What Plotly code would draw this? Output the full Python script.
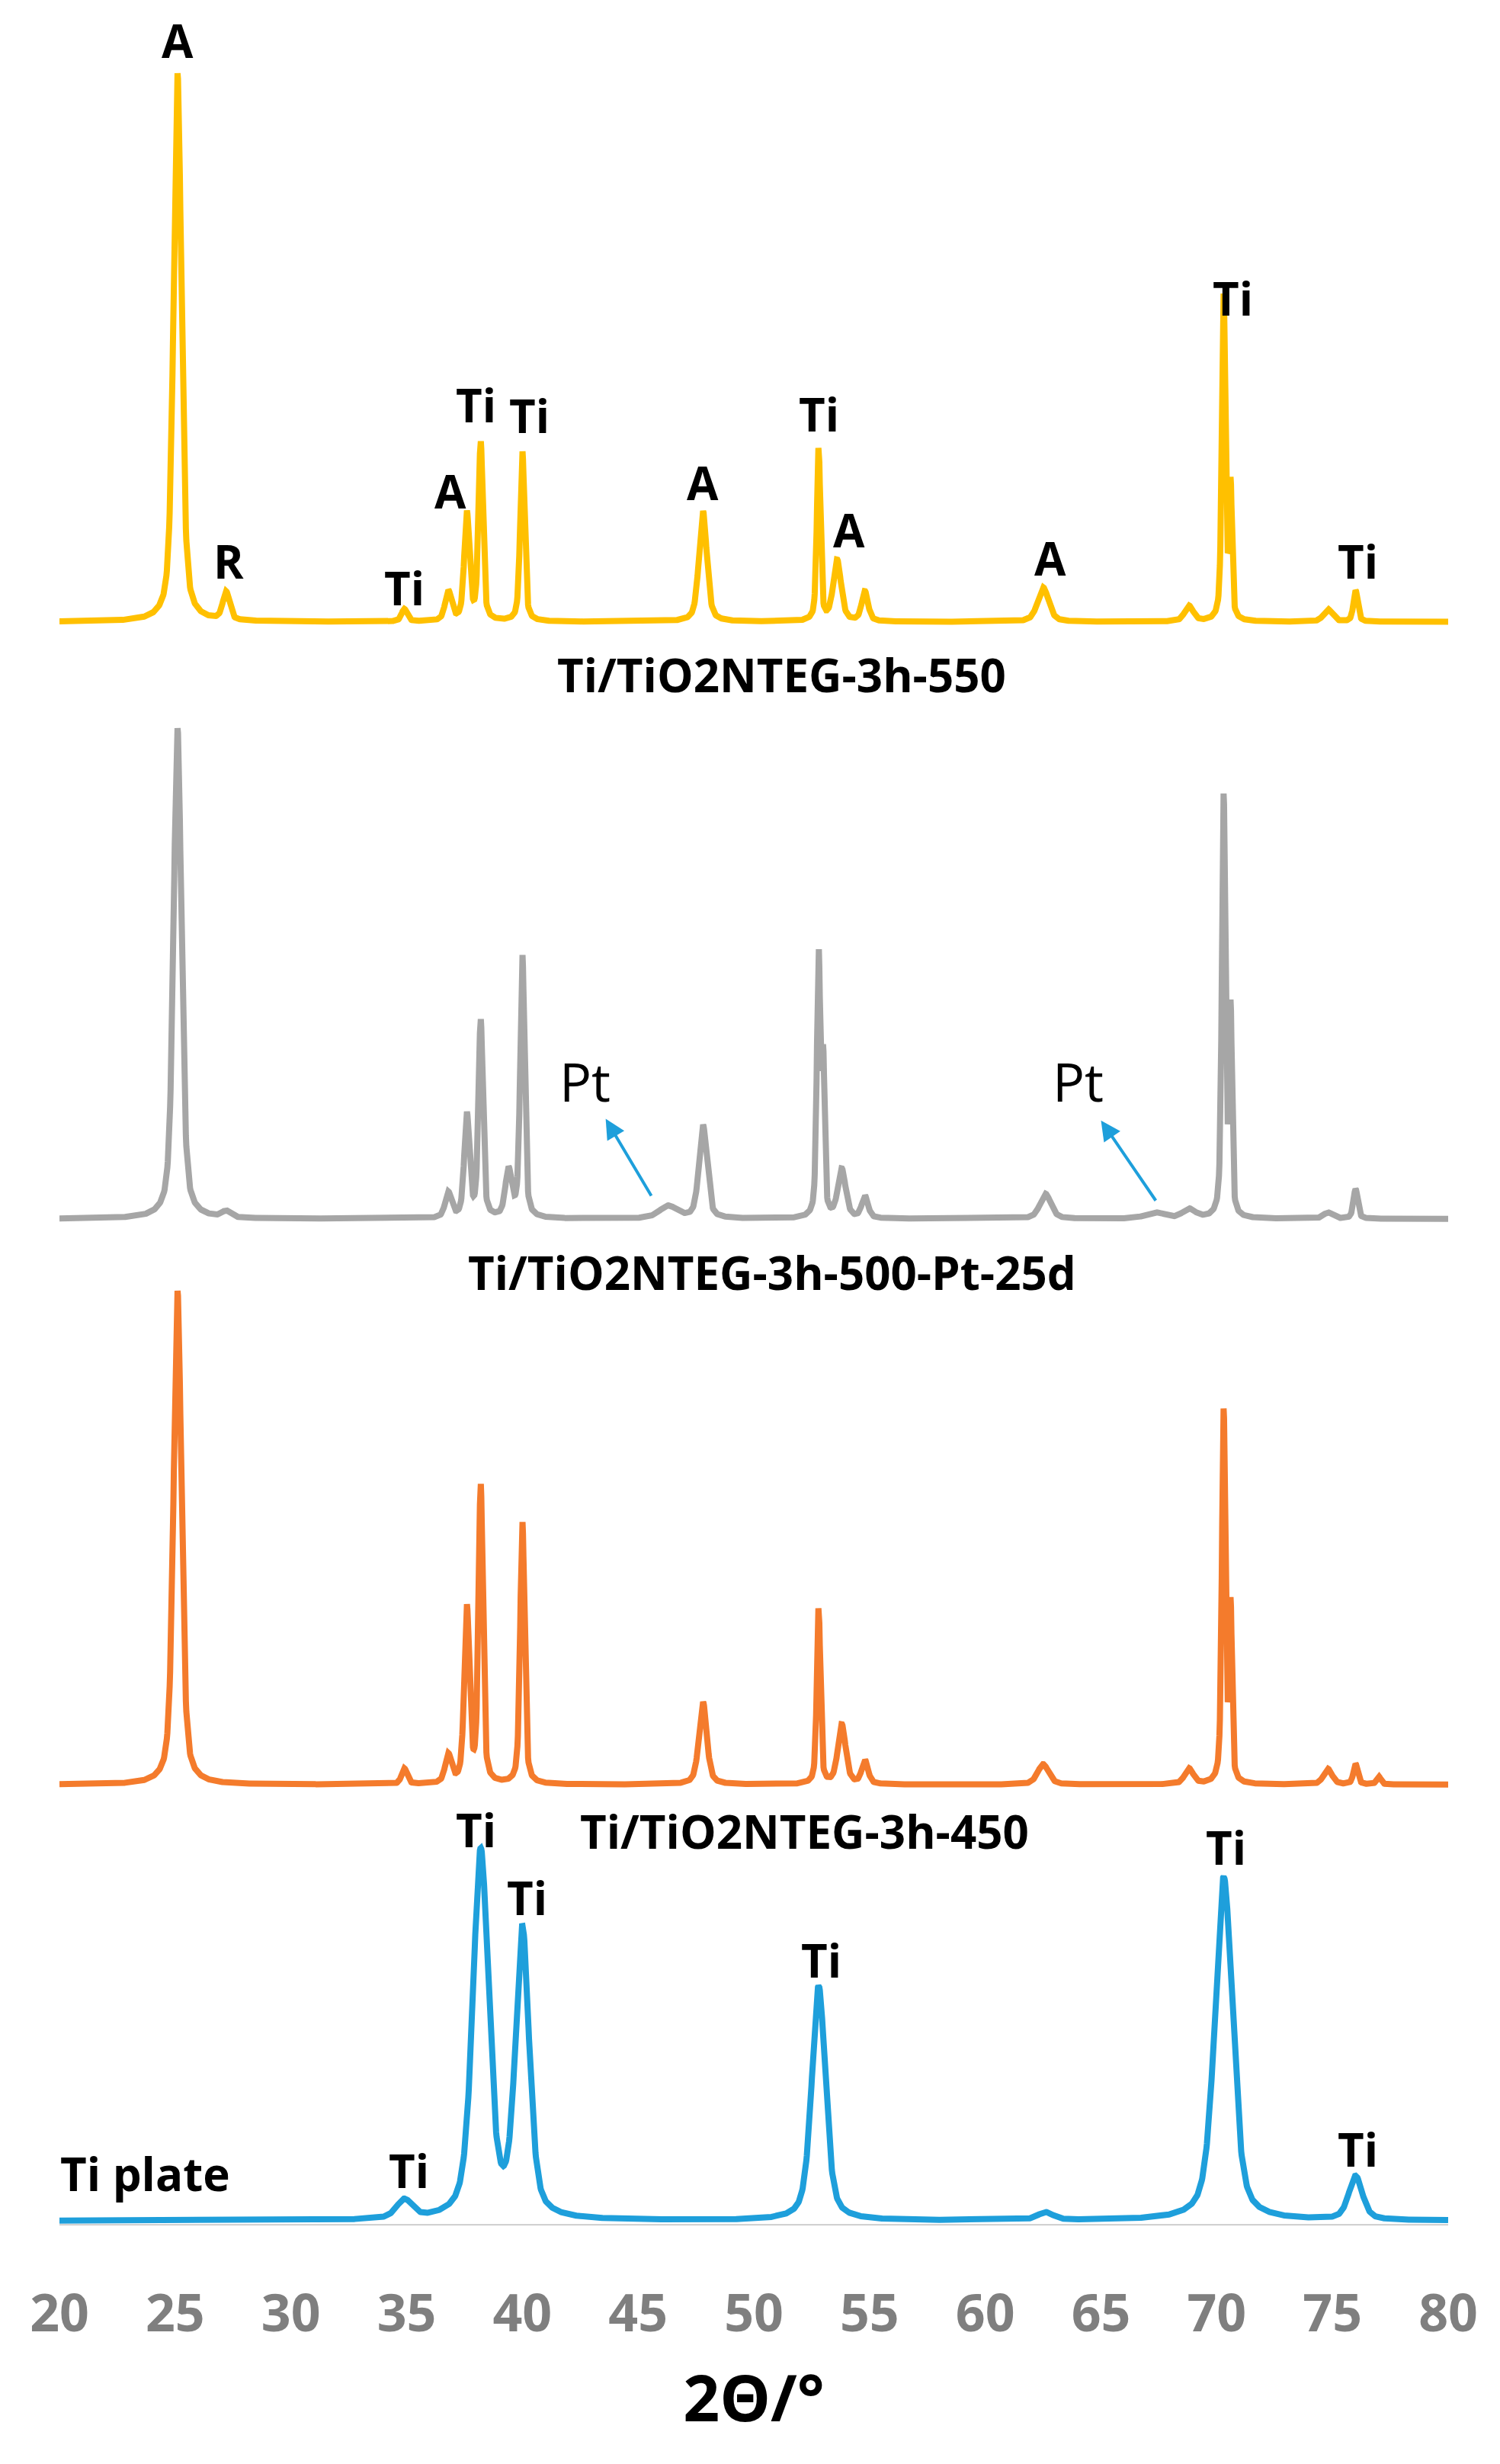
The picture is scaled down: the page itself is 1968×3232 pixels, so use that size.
import numpy as np
import plotly.graph_objects as go

# peak lists: (2theta, height above own baseline, half width)
ti_plate_pk = [34.9, 38.2, 40.0, 52.8, 62.6, 70.3, 76.0]
ti_plate_h = [12, 235, 183, 150, 5, 220, 28]
ti_plate_w = [0.4, 0.4, 0.35, 0.35, 0.4, 0.45, 0.35]

s450_pk = [25.1, 34.9, 36.8, 37.6, 38.2, 40.0, 47.8, 52.8, 53.8, 54.8, 62.5, 68.8, 70.3, 70.6, 74.8, 76.0, 77.0]
s450_h = [316, 10, 18, 112, 190, 168, 53, 113, 38, 15, 13, 10, 238, 110, 10, 13, 5]
s450_w = [0.2, 0.14, 0.16, 0.13, 0.11, 0.11, 0.2, 0.09, 0.2, 0.16, 0.28, 0.22, 0.09, 0.07, 0.22, 0.11, 0.11]

s500_pk = [25.1, 27.2, 36.8, 37.6, 38.2, 39.4, 40.0, 46.3, 47.8, 52.8, 53.0, 53.8, 54.8, 62.6, 67.3, 68.8, 70.3, 70.6, 74.8, 76.0]
s500_h = [314, 4, 16, 66, 126, 30, 168, 8, 60, 168, 93, 31, 14, 16, 4, 6, 269, 129, 4, 19]
s500_w = [0.2, 0.22, 0.16, 0.13, 0.11, 0.16, 0.11, 0.45, 0.2, 0.09, 0.07, 0.2, 0.16, 0.28, 0.45, 0.33, 0.09, 0.07, 0.22, 0.11]

s550_pk = [25.1, 27.2, 34.9, 36.8, 37.6, 38.2, 40.0, 47.8, 52.8, 53.6, 54.8, 62.5, 68.8, 70.3, 70.6, 74.8, 76.0]
s550_h = [351, 18, 8, 19, 69, 114, 109, 71, 111, 39, 19, 22, 10, 208, 84, 8, 20]
s550_w = [0.2, 0.17, 0.14, 0.16, 0.13, 0.11, 0.11, 0.2, 0.09, 0.2, 0.16, 0.28, 0.22, 0.09, 0.07, 0.22, 0.11]

offsets = [3, 282, 644, 1026]
colors = ["#1E9FDB", "#F47B2C", "#A6A6A6", "#FFC000"]

x = np.linspace(20, 80, 3000)

def pattern(pk, h, w):
    y = np.zeros_like(x)
    for p, hh, ww in zip(pk, h, w):
        y += hh / (1 + ((x - p) / ww) ** 2) * 0.5 + hh * 0.5 * np.exp(-((x - p) / ww) ** 2 * 0.69)
    return y

fig = go.Figure()
series = [(ti_plate_pk, ti_plate_h, ti_plate_w), (s450_pk, s450_h, s450_w),
          (s500_pk, s500_h, s500_w), (s550_pk, s550_h, s550_w)]
for (pk, h, w), off, c in zip(series, offsets, colors):
    fig.add_trace(go.Scatter(x=x, y=pattern(pk, h, w) + off, mode="lines",
                             line=dict(color=c, width=8), showlegend=False))

FONT = "Open Sans"
labels = [
    (25.1, 1398, "A"), (27.3, 1065, "R"), (34.9, 1048, "Ti"), (36.9, 1110, "A"), (38.0, 1165, "Ti"),
    (40.3, 1158, "Ti"), (47.8, 1115, "A"), (52.8, 1159, "Ti"), (54.1, 1085, "A"), (62.8, 1067, "A"),
    (70.7, 1233, "Ti"), (76.1, 1065, "Ti"),
    (38.0, 253, "Ti"), (40.2, 210, "Ti"), (52.9, 170, "Ti"), (70.4, 242, "Ti"), (76.1, 49, "Ti"),
    (35.1, 35, "Ti"), (23.7, 33, "Ti plate"),
    (51.2, 992, "Ti/TiO2NTEG-3h-550"), (50.8, 610, "Ti/TiO2NTEG-3h-500-Pt-25d"),
    (52.2, 252, "Ti/TiO2NTEG-3h-450"),
]
for lx, ly, t in labels:
    fig.add_annotation(x=lx, y=ly, text="<b>%s</b>" % t, showarrow=False,
                       font=dict(family=FONT, size=60, color="black"))
for lx, ly in [(42.7, 732), (64.0, 732)]:
    fig.add_annotation(x=lx, y=ly, text="Pt", showarrow=False,
                       font=dict(family=FONT, size=70, color="black"))
for (tx, ty, hx, hy) in [(45.6, 658, 43.6, 708), (67.4, 655, 65.0, 707)]:
    fig.add_annotation(x=hx, y=hy, ax=tx, ay=ty, axref="x", ayref="y", xref="x", yref="y",
                       text="", showarrow=True, arrowhead=2, arrowsize=1.3, arrowwidth=4,
                       arrowcolor="#1E9FDB")

fig.update_layout(
    width=1968, height=3232, paper_bgcolor="white", plot_bgcolor="white",
    margin=dict(l=70, r=76, t=41, b=321),
    xaxis=dict(range=[20, 80], dtick=5, showgrid=False, zeroline=False, showline=False,
               ticks="", tickprefix="<b>", ticksuffix="</b>", ticklabelstandoff=70,
               tickfont=dict(family=FONT, size=68, color="#7F7F7F"),
               title=dict(text="<b>2Θ/°</b>", font=dict(family=FONT, size=84, color="black"),
                          standoff=40)),
    yaxis=dict(range=[0, 1400], visible=False),
    shapes=[dict(type="line", xref="x", yref="y", x0=20, x1=80, y0=0, y1=0,
                 line=dict(color="#BFBFBF", width=3), layer="below")],
)
fig.write_html("out.html")
